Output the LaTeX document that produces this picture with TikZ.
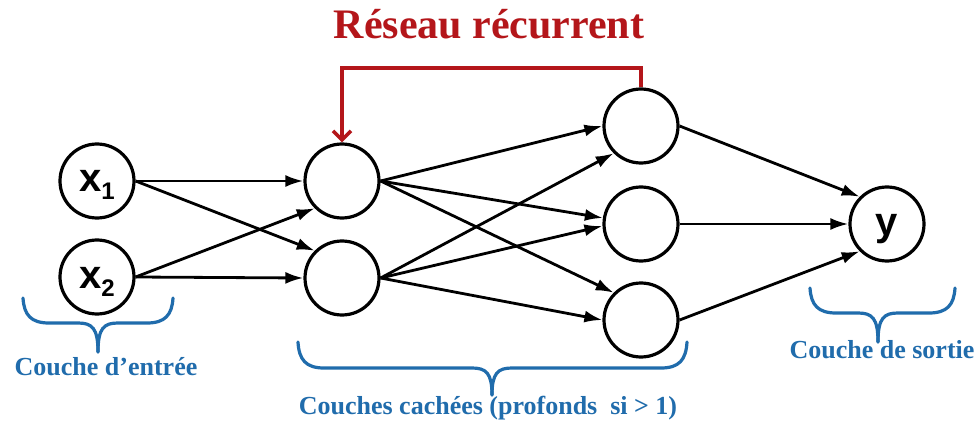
\documentclass[tikz,border=0pt]{standalone}
\usepackage{fontspec}
\setmainfont{Liberation Serif}
\setsansfont{Liberation Sans}
\usetikzlibrary{arrows.meta}

\definecolor{recred}{RGB}{180,22,26}
\definecolor{layerblue}{RGB}{32,108,172}

% curly brace under a layer: x-left, x-right, x-tip, y-top, y-bar, y-tip
\newcommand\layerbrace[6]{%
  \draw[bracestyle] (#1,#4) .. controls (#1+1,#5-8) and (#1+8,#5) .. (#1+26,#5)
    -- (#3-20,#5) .. controls (#3-6,#5) and (#3,#5+5) .. (#3,#6);
  \draw[bracestyle] (#2,#4) .. controls (#2-1,#5-8) and (#2-8,#5) .. (#2-26,#5)
    -- (#3+20,#5) .. controls (#3+6,#5) and (#3,#5+5) .. (#3,#6);}

% neuron caption with its baseline a little below the centre
\newcommand\neurontext[1]{\raisebox{-11pt}[0pt][0pt]{#1}}
% input variable with lowered index
\newcommand\invar[1]{\neurontext{x\raisebox{-8pt}{\fontsize{24}{24}\selectfont #1}}}

\begin{document}
\begin{tikzpicture}[x=1pt,y=-1pt,
  neuron/.style={circle,draw=black,line width=3.2pt,minimum size=74pt,inner sep=0pt,
    font=\sffamily\bfseries\fontsize{40}{40}\selectfont},
  conn/.style={line width=2.8pt,-{Latex[length=18pt,width=12pt]}},
  recur/.style={draw=recred,line width=3.6pt,-{Straight Barb[length=9pt,width=18pt]}},
  bracestyle/.style={draw=layerblue,line width=3.2pt,line cap=round},
  layerlabel/.style={text=layerblue,font=\bfseries\fontsize{26}{26}\selectfont,anchor=base,inner sep=0pt}]
  \useasboundingbox[fill=white] (0,0) rectangle (975,425);

  % title
  \node[text=recred,font=\bfseries\fontsize{42}{42}\selectfont,anchor=base,inner sep=0pt]
    (title) at (489,39) {Réseau récurrent};

  % input layer
  \node[neuron] (x1) at (97,181) {\invar{1}};
  \node[neuron] (x2) at (97,277) {\invar{2}};

  % first hidden layer
  \node[neuron] (h1a) at (342,181) {};
  \node[neuron] (h1b) at (342,278) {};

  % second hidden layer
  \node[neuron] (h2a) at (641,126) {};
  \node[neuron] (h2b) at (641,224) {};
  \node[neuron] (h2c) at (641,320) {};

  % output layer
  \node[neuron] (y) at (887,224) {\neurontext{y}};

  % input -> hidden 1
  \draw[conn] (x1.east) -- (h1a.west);
  \draw[conn] (x1.east) -- (h1b.north west);
  \draw[conn] (x2.east) -- (h1a.south west);
  \draw[conn] (x2.east) -- (h1b.west);

  % hidden 1 -> hidden 2
  \draw[conn] (h1a.east) -- (h2a.west);
  \draw[conn] (h1a.east) -- (h2b.171);
  \draw[conn] (h1a.east) -- (h2c.north west);
  \draw[conn] (h1b.east) -- (h2a.south west);
  \draw[conn] (h1b.east) -- (h2b.183);
  \draw[conn] (h1b.east) -- (h2c.west);

  % hidden 2 -> output
  \draw[conn] (h2a.east) -- (y.north west);
  \draw[conn] (h2b.east) -- (y.west);
  \draw[conn] (h2c.east) -- (y.south west);

  % recurrent loop
  \coordinate (looptop) at (0,68);
  \draw[recur] (h2a.north) -- (h2a.north |- looptop) -- (h1a.north |- looptop) -- (h1a.north);

  % layer braces and labels
  \layerbrace{23}{173}{98}{298}{323}{352}
  \layerbrace{298}{687}{492}{342}{368}{395}
  \layerbrace{810}{955}{878}{288}{313}{342}

  \node[layerlabel] (lin) at (106,375) {Couche d’entrée};
  \node[layerlabel] (lhid) at (488,414) {Couches cachées (profonds\ \ si > 1)};
  \node[layerlabel] (lout) at (882,358) {Couche de sortie};
\end{tikzpicture}
\end{document}
